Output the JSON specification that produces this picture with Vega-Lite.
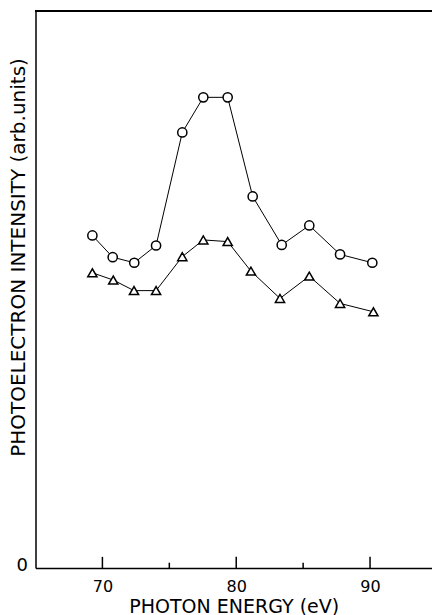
{
  "$schema": "https://vega.github.io/schema/vega-lite/v6.json",
  "width": 396.5,
  "height": 557,
  "autosize": "none",
  "padding": {"left": 35.5, "top": 11, "right": 0, "bottom": 47},
  "background": "white",
  "config": {"view": {"stroke": null}, "font": "DejaVu Sans"},
  "datasets": {
    "spectra": [
      {"series": "circle", "energy": 69.25, "intensity": 59.7},
      {"series": "circle", "energy": 70.77, "intensity": 55.8},
      {"series": "circle", "energy": 72.38, "intensity": 54.8},
      {"series": "circle", "energy": 74.01, "intensity": 57.9},
      {"series": "circle", "energy": 75.97, "intensity": 78.2},
      {"series": "circle", "energy": 77.54, "intensity": 84.5},
      {"series": "circle", "energy": 79.36, "intensity": 84.5},
      {"series": "circle", "energy": 81.23, "intensity": 66.7},
      {"series": "circle", "energy": 83.4, "intensity": 58.0},
      {"series": "circle", "energy": 85.46, "intensity": 61.5},
      {"series": "circle", "energy": 87.76, "intensity": 56.3},
      {"series": "circle", "energy": 90.17, "intensity": 54.8},
      {"series": "triangle", "energy": 69.25, "intensity": 53.0},
      {"series": "triangle", "energy": 70.81, "intensity": 51.7},
      {"series": "triangle", "energy": 72.36, "intensity": 49.8},
      {"series": "triangle", "energy": 74.01, "intensity": 49.8},
      {"series": "triangle", "energy": 75.97, "intensity": 55.9},
      {"series": "triangle", "energy": 77.54, "intensity": 58.9},
      {"series": "triangle", "energy": 79.36, "intensity": 58.6},
      {"series": "triangle", "energy": 81.1, "intensity": 53.3},
      {"series": "triangle", "energy": 83.27, "intensity": 48.4},
      {"series": "triangle", "energy": 85.46, "intensity": 52.4},
      {"series": "triangle", "energy": 87.76, "intensity": 47.5},
      {"series": "triangle", "energy": 90.25, "intensity": 46.0}
    ],
    "majorTicks": [{"energy": 70}, {"energy": 80}, {"energy": 90}],
    "minorTicks": [{"energy": 75}, {"energy": 85}]
  },
  "layer": [
    {
      "mark": {"type": "rule", "color": "black", "strokeWidth": 1.5},
      "data": {"name": "spectra"},
      "encoding": {"y": {"datum": 100, "type": "quantitative", "scale": {"domain": [0, 100], "nice": false}}}
    },
    {
      "mark": {"type": "rule", "color": "black", "strokeWidth": 1.5},
      "data": {"name": "majorTicks"},
      "encoding": {
        "x": {"field": "energy", "type": "quantitative"},
        "y": {"datum": 0, "type": "quantitative"},
        "y2": {"datum": 2}
      }
    },
    {
      "mark": {"type": "rule", "color": "black", "strokeWidth": 1.5},
      "data": {"name": "minorTicks"},
      "encoding": {
        "x": {"field": "energy", "type": "quantitative"},
        "y": {"datum": 0, "type": "quantitative"},
        "y2": {"datum": 0.95}
      }
    },
    {
      "mark": {"type": "line", "color": "black", "strokeWidth": 1},
      "data": {"name": "spectra"},
      "encoding": {
        "x": {
          "field": "energy", "type": "quantitative",
          "scale": {"domain": [65, 94.63], "nice": false, "zero": false},
          "axis": {
            "title": "PHOTON ENERGY (eV)",
            "values": [70, 80, 90],
            "grid": false,
            "ticks": false,
            "domainColor": "black", "domainWidth": 1.5,
            "labelFontSize": 16, "labelColor": "black", "labelPadding": 10,
            "titleFontSize": 19, "titleFontWeight": "normal", "titleColor": "black",
            "titleBaseline": "alphabetic", "titleY": 44
          }
        },
        "y": {
          "field": "intensity", "type": "quantitative",
          "scale": {"domain": [0, 100], "nice": false},
          "axis": {
            "title": "PHOTOELECTRON INTENSITY (arb.units)",
            "values": [0],
            "grid": false,
            "ticks": false,
            "domainColor": "black", "domainWidth": 1.5,
            "labelFontSize": 18, "labelColor": "black", "labelPadding": 8, "labelBaseline": "alphabetic", "labelOffset": 2,
            "titleFontSize": 20, "titleFontWeight": "normal", "titleColor": "black",
            "titleAngle": -90, "titleAlign": "center", "titleBaseline": "middle",
            "titleX": -17, "titleY": 246
          }
        },
        "detail": {"field": "series"}
      }
    },
    {
      "mark": {"type": "point", "filled": true, "fill": "white", "stroke": "black", "strokeWidth": 1.5, "size": 85, "opacity": 1},
      "data": {"name": "spectra"},
      "encoding": {
        "x": {"field": "energy", "type": "quantitative"},
        "y": {"field": "intensity", "type": "quantitative"},
        "shape": {"field": "series", "type": "nominal", "scale": {"domain": ["circle", "triangle"], "range": ["circle", "triangle-up"]}, "legend": null}
      }
    }
  ]
}
